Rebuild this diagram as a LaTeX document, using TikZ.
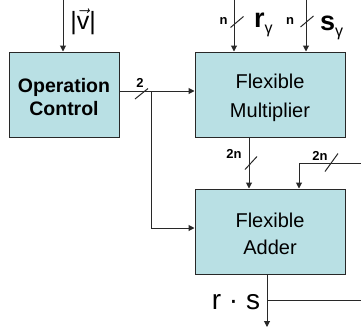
\documentclass[tikz,border=0pt]{standalone}
\usepackage{fontspec}
\setmainfont{Liberation Sans}
\usetikzlibrary{arrows.meta}
\definecolor{boxfill}{RGB}{185,224,228}
\definecolor{wire}{RGB}{40,40,40}
\tikzset{
  blk/.style={draw=wire, line width=1pt, fill=boxfill, rectangle, inner sep=0pt},
  arr/.style={draw=wire, line width=1pt, -{Triangle[length=6pt,width=6pt]}},
  wireln/.style={draw=wire, line width=1pt},
  bus/.style={draw=wire, line width=1pt},
  txt/.style={anchor=base, inner sep=0pt, text=black},
  boxtxt/.style={txt, font=\fontsize{20}{20}\selectfont},
  boldtxt/.style={txt, font=\bfseries\fontsize{19.5}{19.5}\selectfont},
  small/.style={txt, font=\bfseries\fontsize{13}{13}\selectfont},
  big/.style={txt, font=\bfseries\fontsize{27}{27}\selectfont},
}
\newcommand{\gsub}{\raisebox{-6pt}{\mdseries\fontsize{16}{16}\selectfont γ}}
\begin{document}
\begin{tikzpicture}[x=1pt, y=-1pt]
\useasboundingbox (0,0) rectangle (361,327);
% blocks
\node[blk, minimum width=110pt, minimum height=85pt] (opc) at (64,94.5) {};
\node[blk, minimum width=150pt, minimum height=85pt] (mult) at (270,94.5) {};
\node[blk, minimum width=150pt, minimum height=85pt] (add) at (270,231.5) {};
% block texts
\node[boldtxt] (opc1) at (64,92) {Operation};
\node[boldtxt] (opc2) at (64,115) {Control};
\node[boxtxt] (mult1) at (270,88.5) {Flexible};
\node[boxtxt] (mult2) at (270,117.5) {Multiplier};
\node[boxtxt] (add1) at (270,227.5) {Flexible};
\node[boxtxt] (add2) at (270,254) {Adder};
% free ends
\coordinate (vin) at (63,0);
\coordinate (rin) at (234,0);
\coordinate (sin) at (306,0);
\coordinate (br) at (151,91);
\coordinate (fbin) at (361,163);
\coordinate (fbc) at (299,163);
\coordinate (outend) at (267,327);
\coordinate (outbr) at (267,300);
\coordinate (outr) at (361,300);
% inputs
\draw[arr] (vin) -- (vin |- opc.north);
\draw[arr] (rin) -- (rin |- mult.north);
\draw[arr] (sin) -- (sin |- mult.north);
\node[txt, font=\fontsize{25}{25}\selectfont] (vlab) at (83,29) {|$\vec{\mbox{v}}$|};
\node[small] (nr) at (223.5,24) {n};
\node[small] (ns) at (290,24) {n};
\node[big, anchor=base west] (rlab) at (254,27) {r\gsub};
\node[big, anchor=base west] (slab) at (320,30) {s\gsub};
\draw[bus] (230.5,27.5) -- (243.5,16.5);
\draw[bus] (300.5,27) -- (313.5,16);
% control to multiplier and adder
\draw[arr] (opc.east |- br) -- (mult.west |- br);
\draw[arr] (br) |- ([yshift=3.5pt]add.west);
\draw[bus] (135,99) -- (148,88.5);
\node[small] (two) at (140,87.5) {2};
% multiplier to adder
\draw[arr] (mult.south -| 249,0) -- (add.north -| 249,0);
\draw[bus] (245,169.5) -- (257,156.5);
\node[small] (twon1) at (234,158.5) {2n};
% feedback
\draw[arr] (fbin) -- (fbc) -- (fbc |- add.north);
\draw[bus] (325,171.5) -- (338,153.5);
\node[small] (twon2) at (320,160) {2n};
% output
\draw[arr] (outend |- add.south) -- (outend);
\draw[wireln] (outbr) -- (outr);
\node[txt, font=\fontsize{28}{28}\selectfont] (rs) at (236,309) {r · s};
\end{tikzpicture}
\end{document}
